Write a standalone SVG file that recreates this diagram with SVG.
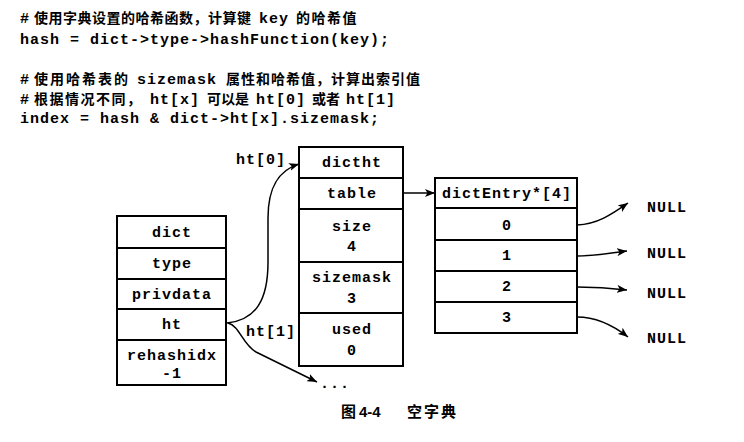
<svg xmlns="http://www.w3.org/2000/svg" width="744" height="442" viewBox="0 0 744 442">
<style>
.m{font-family:"Liberation Mono","Courier New",monospace;font-weight:bold;font-size:15px;letter-spacing:1px;fill:#000}
.c{font-family:"Noto Sans CJK SC",sans-serif;font-weight:bold;font-size:14px;letter-spacing:1.5px;fill:#000}
.mid{text-anchor:middle}
.box rect{fill:#fff;stroke:#000;stroke-width:2}
.con path{fill:none;stroke:#000;stroke-width:1.5}
.cap{font-family:"Liberation Sans","Noto Sans CJK SC",sans-serif;font-weight:bold;font-size:15px;fill:#000}
</style>
<defs>
<marker id="ah" viewBox="0 0 10 8" refX="10" refY="4" markerWidth="10" markerHeight="8" markerUnits="userSpaceOnUse" orient="auto">
<path d="M0,0 L10,4 L0,8 L2.5,4 Z" fill="#000"/>
</marker>
</defs>
<rect width="744" height="442" fill="#fff"/>

<g id="code">
<text y="23"><tspan class="m" x="20">#</tspan><tspan class="c" x="34" style="letter-spacing:0.5px">使用字典设置的哈希函数，计算键</tspan><tspan class="m" x="259">key</tspan><tspan class="c" x="296">的哈希值</tspan></text>
<text class="m" x="20" y="44">hash = dict-&gt;type-&gt;hashFunction(key);</text>
<text y="84"><tspan class="m" x="20">#</tspan><tspan class="c" x="34" style="letter-spacing:2px">使用哈希表的</tspan><tspan class="m" x="137">sizemask</tspan><tspan class="c" x="226" style="letter-spacing:1px">属性和哈希值，计算出索引值</tspan></text>
<text y="104"><tspan class="m" x="20">#</tspan><tspan class="c" x="34">根据情况不同，</tspan><tspan class="m" x="150">ht[x]</tspan><tspan class="c" x="207" style="letter-spacing:0px">可以是</tspan><tspan class="m" x="256">ht[0]</tspan><tspan class="c" x="312" style="letter-spacing:0px">或者</tspan><tspan class="m" x="346">ht[1]</tspan></text>
<text class="m" x="20" y="123">index = hash &amp; dict-&gt;ht[x].sizemask;</text>
</g>

<g id="dict" class="box">
<rect x="117" y="216" width="109" height="32"/>
<rect x="117" y="248" width="109" height="31"/>
<rect x="117" y="279" width="109" height="30"/>
<rect x="117" y="309" width="109" height="31"/>
<rect x="117" y="340" width="109" height="45"/>
<text class="m mid" x="172" y="237">dict</text>
<text class="m mid" x="172" y="268">type</text>
<text class="m mid" x="172" y="299">privdata</text>
<text class="m mid" x="172" y="329">ht</text>
<text class="m mid" x="172" y="360">rehashidx</text>
<text class="m mid" x="172" y="378">-1</text>
</g>

<g id="dictht" class="box">
<rect x="299" y="147" width="104" height="31"/>
<rect x="299" y="178" width="104" height="31"/>
<rect x="299" y="209" width="104" height="53"/>
<rect x="299" y="262" width="104" height="51"/>
<rect x="299" y="313" width="104" height="53"/>
<text class="m mid" x="352" y="167">dictht</text>
<text class="m mid" x="352" y="198">table</text>
<text class="m mid" x="352" y="231">size</text>
<text class="m mid" x="352" y="251">4</text>
<text class="m mid" x="352" y="282">sizemask</text>
<text class="m mid" x="352" y="303">3</text>
<text class="m mid" x="352" y="334">used</text>
<text class="m mid" x="352" y="355">0</text>
</g>

<g id="dictEntry" class="box">
<rect x="435" y="178" width="142" height="30"/>
<rect x="435" y="208" width="142" height="32"/>
<rect x="435" y="240" width="142" height="31"/>
<rect x="435" y="271" width="142" height="31"/>
<rect x="435" y="302" width="142" height="31"/>
<text class="m mid" x="507" y="198">dictEntry*[4]</text>
<text class="m mid" x="507" y="230">0</text>
<text class="m mid" x="507" y="260">1</text>
<text class="m mid" x="507" y="291">2</text>
<text class="m mid" x="507" y="322">3</text>
</g>

<g id="nulls">
<text class="m" x="647" y="212">NULL</text>
<text class="m" x="647" y="258">NULL</text>
<text class="m" x="647" y="298">NULL</text>
<text class="m" x="647" y="343">NULL</text>
<text class="m" x="320" y="388">...</text>
</g>

<g id="connectors" class="con">
<path d="M227,323 C256,320 268,300 268,262 L268,218 C268,185 280,170 299,164" marker-end="url(#ah)"/>
<path d="M228,323 C240,326 242,344 256,352 L317,382" marker-end="url(#ah)"/>
<path d="M403,193 L435,193" marker-end="url(#ah)"/>
<path d="M577,225 C598,224 612,214 628,203" marker-end="url(#ah)"/>
<path d="M577,256 C595,256 610,253 627,251" marker-end="url(#ah)"/>
<path d="M577,287 C595,287 610,288 627,290" marker-end="url(#ah)"/>
<path d="M577,317 C598,317 614,326 628,337" marker-end="url(#ah)"/>
<text class="m" x="236" y="164" stroke="none">ht[0]</text>
<text class="m" x="246" y="336" stroke="none">ht[1]</text>
</g>

<g id="caption">
<text class="cap" x="341" y="417">图</text>
<text class="cap" x="359" y="417">4-4</text>
<text class="cap" x="407" y="417" style="letter-spacing:2px">空字典</text>
</g>
</svg>
